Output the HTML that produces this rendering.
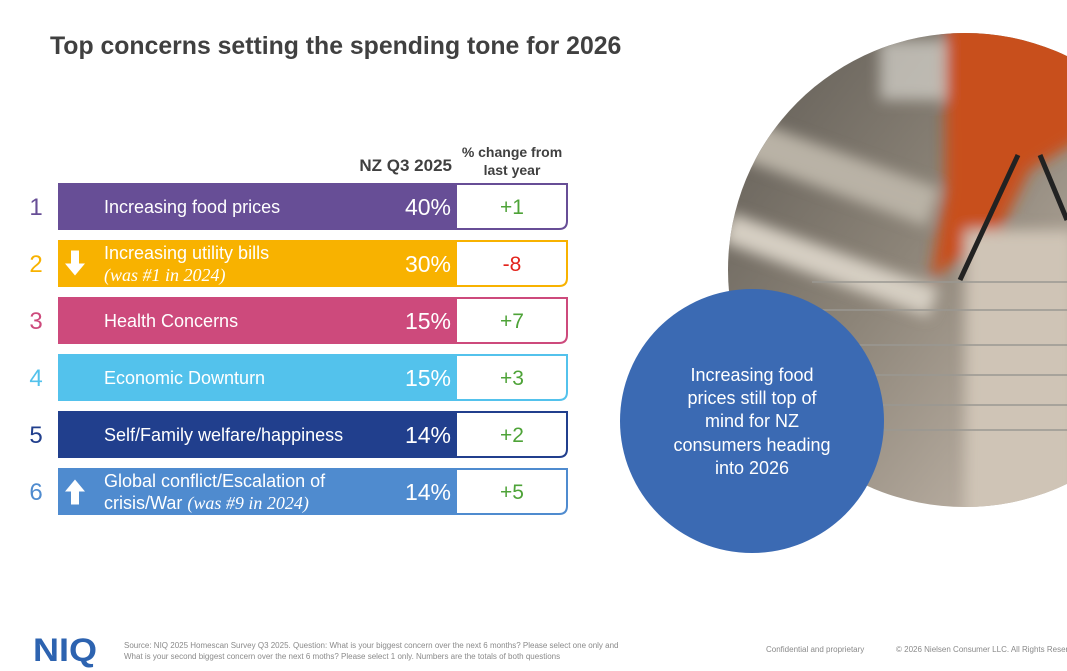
<!DOCTYPE html>
<html><head><meta charset="utf-8"><style>
body{margin:0;width:1067px;height:671px;background:#fff;overflow:hidden;position:relative;font-family:"Liberation Sans",sans-serif}
.abs{position:absolute}
</style></head><body>
<div class="abs" style="left:50px;top:33px;font-size:24.8px;font-weight:bold;color:#404040">Top concerns setting the spending tone for 2026</div>
<svg class="abs" style="left:0;top:0" width="1067" height="671">
<defs>
<clipPath id="pc"><circle cx="965" cy="270" r="237"/></clipPath>
<linearGradient id="bg" x1="0" y1="0" x2="1" y2="1"><stop offset="0" stop-color="#5a5650"/><stop offset="0.5" stop-color="#8c8478"/><stop offset="1" stop-color="#c9bdb0"/></linearGradient>
<filter id="blur" x="-10%" y="-10%" width="120%" height="120%"><feGaussianBlur stdDeviation="7"/></filter>
</defs>
<g clip-path="url(#pc)">
<rect x="700" y="20" width="380" height="500" fill="url(#bg)"/>
<g filter="url(#blur)">
<rect x="720" y="150" width="220" height="40" fill="#b9b2a6" transform="rotate(20 830 170)"/>
<rect x="720" y="250" width="220" height="30" fill="#d6cfc3" transform="rotate(20 830 265)"/>
<rect x="880" y="40" width="80" height="60" fill="#e8e6df" opacity="0.6"/>
<path d="M945 20 H1080 V140 L1030 170 L1000 230 L930 280 L945 190 Z" fill="#c8501a"/>
<rect x="965" y="230" width="110" height="300" fill="#cfc4b6"/>
</g>
<g stroke="#9a9892" stroke-width="1.5" fill="none">
<path d="M812 282 L1067 282 M820 310 L1067 310 M830 345 L1067 345 M840 375 L1067 375 M850 405 L1067 405 M860 430 L1067 430"/>
</g>
<path d="M960 280 L1018 155 M1040 155 L1067 220" stroke="#222" stroke-width="5"/>
</g>
<circle cx="752" cy="421" r="132" fill="#3b6ab3"/>
<text text-anchor="middle" font-size="18" fill="#fff">
<tspan x="752" y="381">Increasing food</tspan><tspan x="752" y="404">prices still top of</tspan><tspan x="752" y="427">mind for NZ</tspan><tspan x="752" y="451">consumers heading</tspan><tspan x="752" y="474">into 2026</tspan></text>
<text x="452" y="171" text-anchor="end" font-size="17" font-weight="bold" fill="#404040">NZ Q3 2025</text>
<text text-anchor="middle" font-size="14" font-weight="bold" fill="#404040"><tspan x="512" y="157">% change from</tspan><tspan x="512" y="175">last year</tspan></text>
<g id="rows"></g>
<text x="33" y="661" font-size="32" font-weight="bold" fill="#2d63b0" textLength="64" lengthAdjust="spacingAndGlyphs">NIQ</text>
<text font-size="8" fill="#8a8a8a"><tspan x="124" y="648">Source: NIQ 2025 Homescan Survey Q3 2025. Question: What is your biggest concern over the next 6 months? Please select one only and</tspan><tspan x="124" y="659">What is your second biggest concern over the next 6 moths? Please select 1 only. Numbers are the totals of both questions</tspan></text>
<text x="766" y="652" font-size="8" fill="#8a8a8a">Confidential and proprietary</text>
<text x="896" y="652" font-size="8" fill="#8a8a8a">© 2026 Nielsen Consumer LLC. All Rights Reserved.</text>
</svg>
<script>
const ranks=[1,2,3,4,5,6];
const labels=[["Increasing food prices"],["Increasing utility bills","(was #1 in 2024)"],["Health Concerns"],["Economic Downturn"],["Self/Family welfare/happiness"],["Global conflict/Escalation of","crisis/War ","(was #9 in 2024)"]];
const values=[40,30,15,15,14,14];
const changes=[1,-8,7,3,2,5];
const arrows=["","down","","","","up"];
const colors=["#674e96","#f8b200","#cd4a7c","#53c2ec","#213f8d","#4f8bcf"];
const NS="http://www.w3.org/2000/svg";
const g=document.getElementById("rows");
function rowY(i){return 183+i*57;}
function mk(t,a){const e=document.createElementNS(NS,t);for(const k in a)e.setAttribute(k,a[k]);return e;}
ranks.forEach((r,i)=>{
  const y=rowY(i),h=47,c=colors[i];
  const grp=mk("g",{});
  
  
  const rk=mk("text",{x:36,y:y+32,"text-anchor":"middle","font-size":24,fill:c});rk.textContent=r;
  
  
  grp.appendChild(rk);
  const bar=mk("rect",{x:58,y:y,width:398,height:h,fill:c});
  
  
  grp.appendChild(bar);
  const box=mk("path",{d:`M456 ${y+1} H567 V${y+h-9} Q567 ${y+h-1} 559 ${y+h-1} H456 Z`,fill:"#fff",stroke:c,"stroke-width":2});
  
  
  grp.appendChild(box);
  const L=labels[i];
  let lt;
  if(L.length===1){lt=mk("text",{x:104,y:y+30,"font-size":18,fill:"#fff"});lt.textContent=L[0];}
  else{
    lt=mk("text",{x:104,"font-size":18,fill:"#fff"});
    const t1=mk("tspan",{x:104,y:y+19});t1.textContent=L[0];lt.appendChild(t1);
    if(L.length===2){const t2=mk("tspan",{x:104,y:y+41,"font-family":"Liberation Serif, serif","font-style":"italic"});t2.textContent=L[1];lt.appendChild(t2);}
    else{const t2=mk("tspan",{x:104,y:y+41});t2.textContent=L[1];lt.appendChild(t2);const t3=mk("tspan",{"font-family":"Liberation Serif, serif","font-style":"italic"});t3.textContent=L[2];lt.appendChild(t3);}
  }
  
  
  grp.appendChild(lt);
  if(arrows[i]){
    const cx=75,cy=y+h/2;
    const d=arrows[i]==="down"?`M${cx-4} ${cy-13} H${cx+4} V${cy} H${cx+10} L${cx} ${cy+12} L${cx-10} ${cy} H${cx-4} Z`:`M${cx-4} ${cy+13} H${cx+4} V${cy} H${cx+10} L${cx} ${cy-12} L${cx-10} ${cy} H${cx-4} Z`;
    const ar=mk("path",{d:d,fill:"#fff"});
    
    
    grp.appendChild(ar);
  }
  const vt=mk("text",{x:451,y:y+32,"text-anchor":"end","font-size":23,fill:"#fff"});vt.textContent=values[i]+"%";
  
  
  grp.appendChild(vt);
  const ch=changes[i];
  const ct=mk("text",{x:512,y:y+31,"text-anchor":"middle","font-size":21,fill:ch<0?"#e3231b":"#4ea338"});ct.textContent=(ch>0?"+":"")+ch;
  
  
  grp.appendChild(ct);
  g.appendChild(grp);
});
</script>
</body></html>
